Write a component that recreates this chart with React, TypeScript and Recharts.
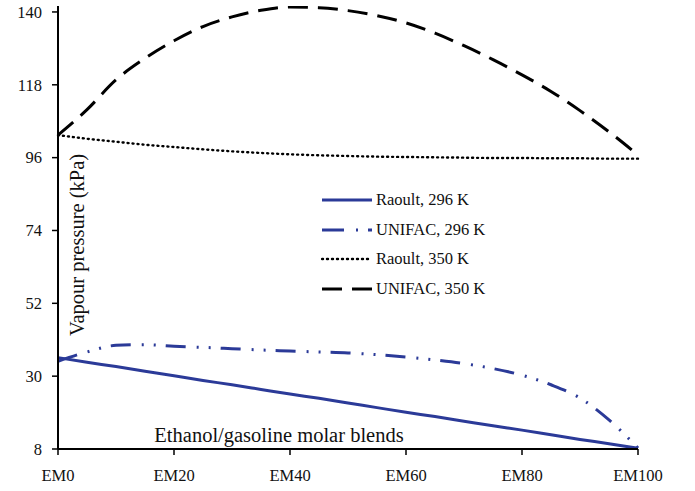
import React from "react";
import { LineChart, Line, XAxis, YAxis, Customized } from "recharts";

const blends = [0, 5, 10, 15, 20, 25, 30, 35, 40, 45, 50, 55, 60, 65, 70, 75, 80, 85, 90, 95, 100];
const raoult296 = [35.6, 34.2, 32.9, 31.5, 30.1, 28.7, 27.4, 26.0, 24.6, 23.3, 21.9, 20.5, 19.1, 17.8, 16.4, 15.0, 13.7, 12.3, 10.9, 9.6, 8.2];
const unifac296 = [34.5, 37.3, 39.3, 39.5, 39.0, 38.7, 38.3, 37.9, 37.6, 37.3, 37.0, 36.5, 35.8, 34.9, 33.8, 32.3, 30.3, 27.4, 23.4, 16.8, 8.3];
const raoult350 = [102.8, 101.7, 100.8, 99.9, 99.2, 98.5, 97.9, 97.4, 97.0, 96.7, 96.5, 96.3, 96.2, 96.1, 96.0, 95.9, 95.9, 95.8, 95.8, 95.7, 95.7];
const unifac350 = [102.8, 110.5, 119.5, 126.0, 131.3, 135.6, 138.5, 140.5, 141.5, 141.3, 140.4, 138.9, 136.7, 133.6, 129.8, 125.6, 121.0, 116.0, 110.2, 103.8, 96.8];

const xTicks = [0, 20, 40, 60, 80, 100];
const yTicks = [8, 30, 52, 74, 96, 118, 140];

const BLUE = "#2b3a98";
const FONT = "'Liberation Serif', 'Times New Roman', serif";

const data = blends.map((b, i) => ({
  x: b,
  r296: raoult296[i],
  u296: unifac296[i],
  r350: raoult350[i],
  u350: unifac350[i],
}));

const series = [
  { key: "r296", name: "Raoult, 296 K", color: BLUE, dash: undefined as string | undefined, width: 3, cap: "butt" },
  { key: "u296", name: "UNIFAC, 296 K", color: BLUE, dash: "20 11 2 10 2 10", width: 3, cap: "butt" },
  { key: "r350", name: "Raoult, 350 K", color: "#000", dash: "1 4", width: 2.4, cap: "round" },
  { key: "u350", name: "UNIFAC, 350 K", color: "#000", dash: "20 10", width: 3, cap: "butt" },
];

const legendDash: Record<string, string | undefined> = {
  r296: undefined,
  u296: "22 12 2 10",
  r350: "1 4",
  u350: "20 10",
};

function LegendBox() {
  return (
    <div
      style={{
        position: "absolute",
        left: 321,
        top: 185,
        width: 220,
        fontFamily: FONT,
        fontSize: 16.5,
        color: "#111",
      }}
    >
      {series.map((s) => (
        <div key={s.key} style={{ display: "flex", alignItems: "center", height: 29.7 }}>
          <svg width={52} height={10} style={{ marginRight: 3 }}>
            <line
              x1={1}
              y1={5}
              x2={51}
              y2={5}
              stroke={s.color}
              strokeWidth={s.width}
              strokeDasharray={legendDash[s.key]}
              strokeLinecap={s.cap as any}
            />
          </svg>
          <span>{s.name}</span>
        </div>
      ))}
    </div>
  );
}

function Titles() {
  return (
    <g fontFamily={FONT} fill="#111">
      <text x={279} y={441.5} fontSize={20.5} textAnchor="middle">
        Ethanol/gasoline molar blends
      </text>
      <text
        x={0}
        y={0}
        fontSize={20.5}
        textAnchor="middle"
        transform="translate(83.5,245) rotate(-90)"
      >
        Vapour pressure (kPa)
      </text>
    </g>
  );
}

export default function App() {
  return (
    <div style={{ position: "absolute", left: 0, top: 0, width: 695, height: 491, background: "#fff" }}>
      <LineChart
        width={695}
        height={491}
        data={data}
        margin={{ top: 6, right: 57, bottom: 12, left: 8 }}
      >
        <XAxis
          dataKey="x"
          type="number"
          domain={[0, 100]}
          ticks={xTicks}
          tickFormatter={(v: number) => "EM" + v}
          tick={{ fill: "#111", fontSize: 16.5, fontFamily: FONT }}
          tickSize={6}
          tickMargin={14}
          height={30}
          axisLine={{ stroke: "#000", strokeWidth: 2 }}
          tickLine={{ stroke: "#000", strokeWidth: 1.5 }}
          interval={0}
        />
        <XAxis
          xAxisId="top"
          orientation="top"
          dataKey="x"
          type="number"
          domain={[0, 100]}
          tick={false}
          tickLine={false}
          height={0}
          axisLine={{ stroke: "#000", strokeWidth: 1.5 }}
        />
        <YAxis
          type="number"
          domain={[8, 141.8]}
          ticks={yTicks}
          tick={{ fill: "#111", fontSize: 16.5, fontFamily: FONT }}
          tickSize={6}
          tickMargin={10}
          width={50}
          axisLine={{ stroke: "#000", strokeWidth: 2 }}
          tickLine={{ stroke: "#000", strokeWidth: 1.5 }}
          interval={0}
          allowDataOverflow
        />
        <YAxis
          yAxisId="right"
          orientation="right"
          type="number"
          domain={[8, 141.8]}
          tick={false}
          tickLine={false}
          width={0}
          axisLine={{ stroke: "#000", strokeWidth: 1.5 }}
        />
        {series.map((s) => (
          <Line
            key={s.key}
            dataKey={s.key}
            name={s.name}
            type="monotone"
            stroke={s.color}
            strokeWidth={s.width}
            strokeDasharray={s.dash}
            strokeLinecap={s.cap as any}
            dot={false}
            activeDot={false}
            isAnimationActive={false}
          />
        ))}
        <Customized component={<Titles />} />
      </LineChart>
      <LegendBox />
    </div>
  );
}
